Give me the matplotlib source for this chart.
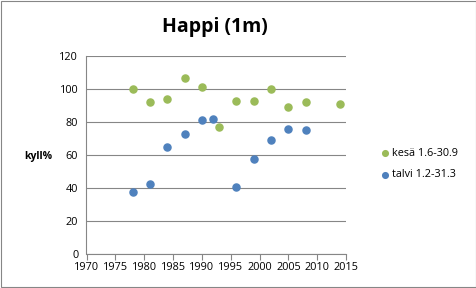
import numpy as np
import matplotlib.pyplot as plt

# summer (kesä) samples
kesa_year = [1978, 1981, 1984, 1987, 1990, 1993, 1996, 1999, 2002, 2005, 2008, 2014]
kesa_val = [100, 92, 94, 106.5, 101, 77, 92.5, 92.5, 100, 89, 92, 91]

# winter (talvi) samples
talvi_year = [1978, 1981, 1984, 1987, 1990, 1992, 1996, 1999, 2002, 2005, 2008]
talvi_val = [37.6, 42.4, 64.8, 72.7, 81, 81.8, 40.4, 57.6, 69, 75.7, 75.1]

xticks = list(range(1970, 2016, 5))
yticks = list(range(0, 121, 20))

plt.rcParams['font.family'] = ['Open Sans', 'DejaVu Sans']

fig = plt.figure(figsize=(4.77, 2.88), dpi=100)
ax = fig.add_axes([86.5/477, 1 - 254/288, (346 - 86.5)/477, (254 - 56)/288])

ax.scatter(kesa_year, kesa_val, s=26, color='#9BBB59', zorder=3, label='kesä 1.6-30.9')
ax.scatter(talvi_year, talvi_val, s=26, color='#4F81BD', zorder=3, label='talvi 1.2-31.3')

ax.set_xlim(1970, 2015)
ax.set_ylim(0, 120)
ax.set_xticks(xticks)
ax.set_yticks(yticks)
ax.tick_params(axis='x', labelsize=7.8, length=4, color='#868686', pad=2)
ax.tick_params(axis='y', labelsize=7.8, length=0, pad=6)
ax.grid(axis='y', color='#868686', linewidth=0.8)
ax.set_axisbelow(True)
for s in ['top', 'right']:
    ax.spines[s].set_visible(False)
ax.spines['left'].set_color('#868686')
ax.spines['bottom'].set_color('#868686')

fig.text(215/477, 1 - 27/288, 'Happi (1m)', ha='center', va='center', fontsize=14, fontweight='bold')
fig.text(38/477, 1 - 157/288, 'kyll%', ha='center', va='center', fontsize=7.5, fontweight='bold')

ax.legend(loc='center left', bbox_to_anchor=(370/477, 1 - 164/288), bbox_transform=fig.transFigure,
          frameon=False, fontsize=7.8, handletextpad=0.1, markerscale=0.8, labelspacing=1.0,
          handlelength=1.0)

# outer border like the Excel chart area
fig.patches.append(plt.Rectangle((0.002, 0.003), 0.995, 0.994, transform=fig.transFigure,
                                 fill=False, edgecolor='#868686', linewidth=0.8))

fig.savefig('out.png', dpi=100)
